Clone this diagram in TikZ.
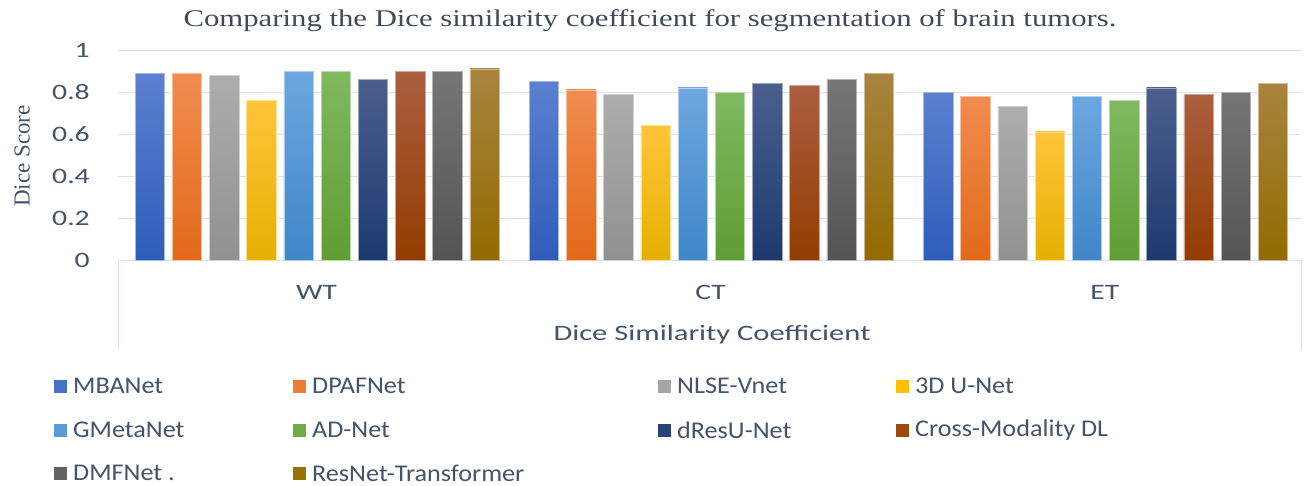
\documentclass[tikz,border=0pt]{standalone}
\usepackage{fontspec}
\setmainfont{Liberation Serif}
\newfontfamily\axfont[FakeStretch=1.35]{Carlito}
\newfontfamily\xlfont[FakeStretch=1.39]{Carlito}
\newfontfamily\legfont[FakeStretch=1.09]{Carlito}
\newfontfamily\ttlfont[FakeStretch=1.28]{Liberation Serif}
\definecolor{txt}{HTML}{44546A}
\definecolor{ttl}{HTML}{3F4A5C}
\definecolor{gridc}{HTML}{DDE2EA}
\definecolor{c0t}{HTML}{5B80D0}\definecolor{c0b}{HTML}{2E5DB9}\definecolor{c0m}{HTML}{4472C4}
\definecolor{c1t}{HTML}{F18C50}\definecolor{c1b}{HTML}{E2691A}\definecolor{c1m}{HTML}{ED7D31}
\definecolor{c2t}{HTML}{ADADAD}\definecolor{c2b}{HTML}{919191}\definecolor{c2m}{HTML}{A5A5A5}
\definecolor{c3t}{HTML}{FFC53A}\definecolor{c3b}{HTML}{E5B000}\definecolor{c3m}{HTML}{FFC000}
\definecolor{c4t}{HTML}{6CA7DF}\definecolor{c4b}{HTML}{3F86C8}\definecolor{c4m}{HTML}{5B9BD5}
\definecolor{c5t}{HTML}{80B960}\definecolor{c5b}{HTML}{5E9E33}\definecolor{c5m}{HTML}{70AD47}
\definecolor{c6t}{HTML}{4B5F8D}\definecolor{c6b}{HTML}{1C3A70}\definecolor{c6m}{HTML}{264478}
\definecolor{c7t}{HTML}{AB5F40}\definecolor{c7b}{HTML}{943C00}\definecolor{c7m}{HTML}{9E480E}
\definecolor{c8t}{HTML}{767676}\definecolor{c8b}{HTML}{545454}\definecolor{c8m}{HTML}{636363}
\definecolor{c9t}{HTML}{A8843F}\definecolor{c9b}{HTML}{926B00}\definecolor{c9m}{HTML}{997300}
\newcommand\drawbar[3]{%
  \pgfmathsetmacro\bx{135+394.2*#1+37.2*#2}%
  \pgfmathsetmacro\by{260-210*#3}%
  \shade[top color=c#2t, bottom color=c#2b, draw=c#2t!55!white, line width=0.6pt]
    (\bx,\by) rectangle ({\bx+29.5},260);%
}
\newcommand\legitem[5]{%
  \fill[c#3m] (#1,{#2-6.5}) rectangle ({#1+13},{#2+6.5});%
  \node[legtext] (#5) at ({#1+19},#2) {#4};%
}
\begin{document}
\begin{tikzpicture}[x=1pt,y=-1pt,
  gridline/.style={draw=gridc, line width=1pt},
  ticklab/.style={anchor=east, inner sep=0pt, text=txt, font=\axfont\fontsize{22}{24}\selectfont},
  catlab/.style={inner sep=0pt, text=txt, font=\axfont\fontsize{22}{24}\selectfont},
  legtext/.style={anchor=west, inner sep=0pt, text=txt, font=\legfont\fontsize{24}{26}\selectfont}]
\useasboundingbox[fill=white] (0,0) rectangle (1305,485);
% title
\node[inner sep=0pt, text=ttl, font=\ttlfont\fontsize{24}{26}\selectfont] (title) at (650,21)
  {Comparing the Dice similarity coefficient for segmentation of brain tumors.};
% grid
\foreach \v in {0.2,0.4,0.6,0.8,1}
  \draw[gridline] (118,{260-210*\v}) -- (1301,{260-210*\v});
\draw[gridline] (118,260) -- (1301,260);
\draw[gridline] (118,260) -- (118,350);
\draw[gridline] (1301,260) -- (1301,350);
% tick labels
\foreach \v/\l/\n in {0/0/t0,0.2/0.2/t1,0.4/0.4/t2,0.6/0.6/t3,0.8/0.8/t4,1/1/t5}
  \node[ticklab] (\n) at (90,{260-210*\v}) {\l};
\node[rotate=90, inner sep=0pt, text=txt, font=\fontsize{23}{25}\selectfont] (ylab) at (22,156) {Dice Score};
% bars WT
\drawbar{0}{0}{0.89}\drawbar{0}{1}{0.89}\drawbar{0}{2}{0.88}\drawbar{0}{3}{0.76}\drawbar{0}{4}{0.90}
\drawbar{0}{5}{0.90}\drawbar{0}{6}{0.86}\drawbar{0}{7}{0.90}\drawbar{0}{8}{0.90}\drawbar{0}{9}{0.91}
% bars CT
\drawbar{1}{0}{0.85}\drawbar{1}{1}{0.81}\drawbar{1}{2}{0.79}\drawbar{1}{3}{0.64}\drawbar{1}{4}{0.82}
\drawbar{1}{5}{0.80}\drawbar{1}{6}{0.84}\drawbar{1}{7}{0.83}\drawbar{1}{8}{0.86}\drawbar{1}{9}{0.89}
% bars ET
\drawbar{2}{0}{0.80}\drawbar{2}{1}{0.78}\drawbar{2}{2}{0.73}\drawbar{2}{3}{0.61}\drawbar{2}{4}{0.78}
\drawbar{2}{5}{0.76}\drawbar{2}{6}{0.82}\drawbar{2}{7}{0.79}\drawbar{2}{8}{0.80}\drawbar{2}{9}{0.84}
% category labels
\node[catlab] (wt) at (316.5,292) {WT};
\node[catlab] (ct) at (710.7,292) {CT};
\node[catlab] (et) at (1104.9,292) {ET};
\node[catlab, font=\xlfont\fontsize{22}{24}\selectfont] (xlab) at (712,335) {Dice Similarity Coefficient};
% legend
\legitem{54}{386}{0}{MBANet}{l0}
\legitem{293}{386}{1}{DPAFNet}{l1}
\legitem{658}{386}{2}{NLSE-Vnet}{l2}
\legitem{896}{386}{3}{3D U-Net}{l3}
\legitem{54}{430}{4}{GMetaNet}{l4}
\legitem{293}{430}{5}{AD-Net}{l5}
\legitem{658}{430}{6}{dResU-Net}{l6}
\legitem{896}{430}{7}{Cross-Modality DL}{l7}
\legitem{54}{473}{8}{DMFNet .}{l8}
\legitem{293}{473}{9}{ResNet-Transformer}{l9}
\end{tikzpicture}
\end{document}
